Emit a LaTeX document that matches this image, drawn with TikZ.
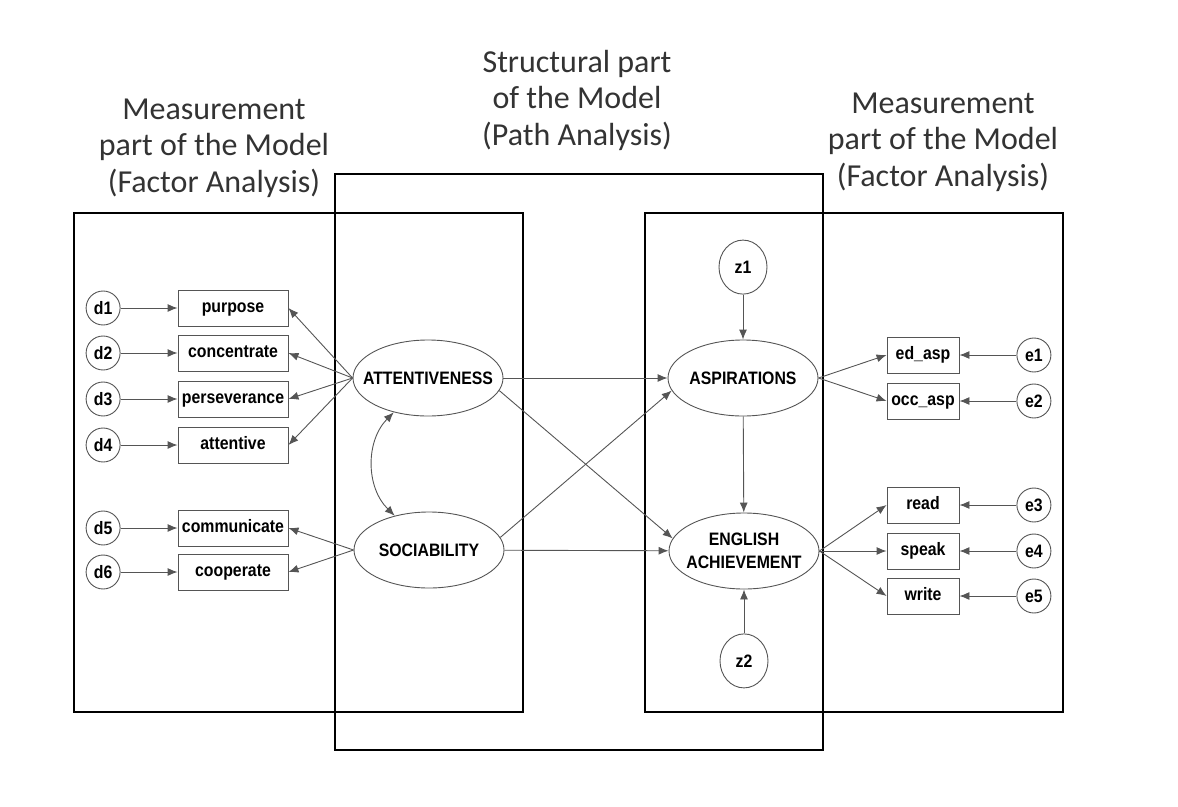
\documentclass[tikz,border=0pt]{standalone}
\usepackage{fontspec}
\usepackage{xcolor}
\usetikzlibrary{shapes.geometric,arrows.meta,positioning}
\newfontfamily\titlefont{Carlito}
\newfontfamily\amosfont{Liberation Sans}[FakeStretch=0.88]
\definecolor{semgray}{RGB}{85,85,85}
\tikzset{
  indicator/.style={rectangle, draw=semgray, line width=0.9pt, minimum width=110pt,
                    minimum height=36pt, inner sep=0pt, text height=12pt, text depth=3pt,
                    font=\amosfont\bfseries\fontsize{18}{20}\selectfont},
  shortind/.style={indicator, minimum width=72pt},
  latent/.style={ellipse, draw=semgray, line width=0.9pt, minimum width=150pt,
                 minimum height=76pt, inner xsep=-20pt, inner ysep=0pt, align=center,
                 font=\amosfont\bfseries\fontsize{18}{23}\selectfont},
  errvar/.style={circle, draw=semgray, line width=0.9pt, minimum size=34pt,
                 inner sep=0pt, font=\amosfont\bfseries\fontsize{18}{20}\selectfont},
  disturb/.style={ellipse, draw=semgray, line width=0.9pt, minimum width=48pt,
                  minimum height=54pt, inner sep=0pt,
                  font=\amosfont\bfseries\fontsize{18}{20}\selectfont},
  loading/.style={-{Latex[length=10pt,width=8pt]}, draw=semgray, line width=0.9pt},
  modelframe/.style={draw=black, line width=2pt},
  heading/.style={align=center, text=black!80,
                  font=\titlefont\fontsize{32}{36.5}\selectfont}
}
\begin{document}
\begin{tikzpicture}[x=1pt, y=-1pt, node distance=57pt and 57pt]
\useasboundingbox (0,0) rectangle (1178,806);
\draw[modelframe] (74,213) rectangle (523,712);
\draw[modelframe] (335,174) rectangle (823,750);
\draw[modelframe] (645,213) rectangle (1063,712);
\node[heading] (lefthead) at (214,148) {Measurement\\part of the Model\\(Factor Analysis)};
\node[heading] (midhead) at (577,100) {Structural part\\of the Model\\(Path Analysis)};
\node[heading] (righthead) at (943,142) {Measurement\\part of the Model\\(Factor Analysis)};
\node[latent] (att) at (428,378) {ATTENTIVENESS};
\node[latent] (soc) at (429,550) {SOCIABILITY};
\node[latent] (asp) at (743,378) {ASPIRATIONS};
\node[latent] (eng) at (744,551) {ENGLISH\\ACHIEVEMENT};
\node[indicator] (purpose) at (233,308) {purpose};
\node[indicator] (concentrate) at (233,353) {concentrate};
\node[indicator] (perseverance) at (233,399) {perseverance};
\node[indicator] (attentive) at (233,445) {attentive};
\node[indicator] (communicate) at (233,528) {communicate};
\node[indicator] (cooperate) at (233,572) {cooperate};
\node[shortind] (edasp) at (923,355) {ed\_asp};
\node[shortind] (occasp) at (923,401) {occ\_asp};
\node[shortind] (read) at (923,505) {read};
\node[shortind] (speak) at (923,551) {speak};
\node[shortind] (write) at (923,596) {write};
\node[disturb, above=45pt of asp] (z1) {z1};
\node[disturb, below=44pt of eng] (z2) {z2};
\foreach \err/\ind in {d1/purpose,d2/concentrate,d3/perseverance,d4/attentive,
                       d5/communicate,d6/cooperate} {
  \node[errvar, left=of \ind] (\err) {\err};
  \draw[loading] (\err) -- (\ind);
}
\foreach \err/\ind in {e1/edasp,e2/occasp,e3/read,e4/speak,e5/write} {
  \node[errvar, right=of \ind] (\err) {\err};
  \draw[loading] (\err) -- (\ind);
}
\foreach \ind in {purpose,concentrate,perseverance,attentive}
  \draw[loading] (att.west) -- (\ind.east);
\foreach \ind in {communicate,cooperate}
  \draw[loading] (soc.west) -- (\ind.east);
\foreach \ind in {edasp,occasp}
  \draw[loading] (asp.east) -- (\ind.west);
\foreach \ind in {read,speak,write}
  \draw[loading] (eng.east) -- (\ind.west);
\draw[loading] (att) -- (asp);
\draw[loading] (soc) -- (eng);
\draw[loading] (att.-10) -- (eng.170);
\draw[loading] (soc.10) -- (asp.190);
\draw[loading] (asp) -- (eng);
\draw[loading] (z1) -- (asp);
\draw[loading] (z2) -- (eng);
\draw[loading, {Latex[length=10pt,width=8pt]}-{Latex[length=10pt,width=8pt]}]
  (att.225) to[bend right=45] (soc.135);
\end{tikzpicture}
\end{document}
